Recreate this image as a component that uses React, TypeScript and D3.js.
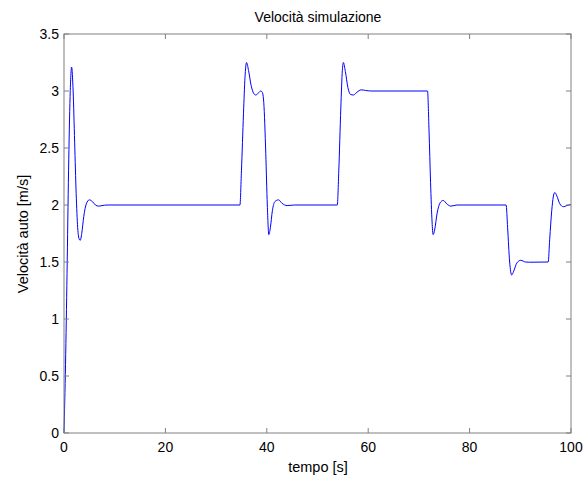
import React from "react";
import * as d3 from "d3";

const timeS: number[] = [
  0, 0.3, 0.6, 0.9, 1.2, 1.5, 1.8, 2.1, 2.4, 2.7, 3.0, 3.2, 3.5, 3.9, 4.4, 5.0, 5.6, 6.2, 6.8, 7.5, 8.5,
  34.7, 35.0, 35.4, 35.7, 36.0, 36.4, 36.9, 37.4, 37.8, 38.3, 38.8, 39.1, 39.4, 39.8, 40.1, 40.4, 40.7, 41.1, 41.6, 42.3, 43.0, 44.0, 45.5,
  53.9, 54.2, 54.6, 54.9, 55.1, 55.5, 56.0, 56.5, 57.1, 57.8, 58.6, 59.5, 60.5,
  71.7, 72.0, 72.3, 72.6, 72.8, 73.1, 73.6, 74.2, 74.8, 75.5, 76.3, 77.5,
  87.2, 87.5, 87.9, 88.3, 88.7, 89.3, 90.1, 91.0, 91.8,
  95.5, 95.8, 96.2, 96.5, 96.8, 97.2, 97.8, 98.5, 99.2, 100,
];
const speed: number[] = [
  0, 0.6, 1.4, 2.3, 2.95, 3.21, 3.0, 2.55, 2.1, 1.8, 1.7, 1.69, 1.75, 1.9, 2.01, 2.045, 2.03, 2.0, 1.99, 1.995, 2.0,
  2.0, 2.3, 2.8, 3.12, 3.25, 3.18, 3.05, 2.98, 2.965, 2.98, 3.0, 2.99, 2.9, 2.45, 2.0, 1.74, 1.8, 1.95, 2.03, 2.045, 2.015, 1.995, 2.0,
  2.0, 2.3, 2.85, 3.18, 3.25, 3.17, 3.03, 2.97, 2.965, 2.99, 3.01, 3.005, 3.0,
  3.0, 2.65, 2.2, 1.85, 1.74, 1.78, 1.93, 2.02, 2.04, 2.01, 1.99, 2.0,
  2.0, 1.8, 1.5, 1.386, 1.42, 1.49, 1.515, 1.5, 1.498,
  1.5, 1.7, 1.95, 2.07, 2.11, 2.08, 2.01, 1.985, 1.995, 2.005,
];
const xTicks: number[] = [0, 20, 40, 60, 80, 100];
const yTicks: number[] = [0, 0.5, 1, 1.5, 2, 2.5, 3, 3.5];

const W = 588;
const H = 483;
const L = 64, R = 571, T = 34, B = 433;

export default function App() {
  const x = d3.scaleLinear().domain([0, 100]).range([L, R]);
  const y = d3.scaleLinear().domain([0, 3.5]).range([B, T]);
  const pts = timeS.map((t, i) => [t, speed[i]] as [number, number]);
  const line = d3
    .line<[number, number]>()
    .x((d) => x(d[0]))
    .y((d) => y(d[1]))
    .curve(d3.curveMonotoneX);
  const axisColor = "#808080";
  const font = "'Liberation Sans', Arial, sans-serif";
  const tl = 5;
  const fs = 14;
  return (
    <svg
      width={W}
      height={H}
      style={{ position: "absolute", left: 0, top: 0, background: "#fff" }}
      fontFamily={font}
    >
      <rect x={0} y={0} width={W} height={H} fill="#fff" />
      <path d={line(pts) || ""} fill="none" stroke="#0000ff" strokeWidth={1} />
      <rect x={L} y={T} width={R - L} height={B - T} fill="none" stroke={axisColor} strokeWidth={1} />
      {xTicks.map((t) => (
        <g key={"x" + t}>
          <line x1={x(t)} x2={x(t)} y1={B} y2={B - tl} stroke={axisColor} />
          <line x1={x(t)} x2={x(t)} y1={T} y2={T + tl} stroke={axisColor} />
          <text x={x(t)} y={452} fontSize={fs} textAnchor="middle" fill="#000">
            {t}
          </text>
        </g>
      ))}
      {yTicks.map((t) => (
        <g key={"y" + t}>
          <line x1={L} x2={L + tl} y1={y(t)} y2={y(t)} stroke={axisColor} />
          <line x1={R} x2={R - tl} y1={y(t)} y2={y(t)} stroke={axisColor} />
          <text x={59} y={y(t) + 5} fontSize={fs} textAnchor="end" fill="#000">
            {t}
          </text>
        </g>
      ))}
      <text x={318} y={22} fontSize={fs} textAnchor="middle" fill="#000">
        Velocità simulazione
      </text>
      <text x={318} y={472} fontSize={fs + 0.5} textAnchor="middle" fill="#000">
        tempo [s]
      </text>
      <text
        transform={`translate(28, ${234}) rotate(-90)`}
        fontSize={fs + 0.5}
        textAnchor="middle"
        fill="#000"
      >
        Velocità auto [m/s]
      </text>
    </svg>
  );
}
